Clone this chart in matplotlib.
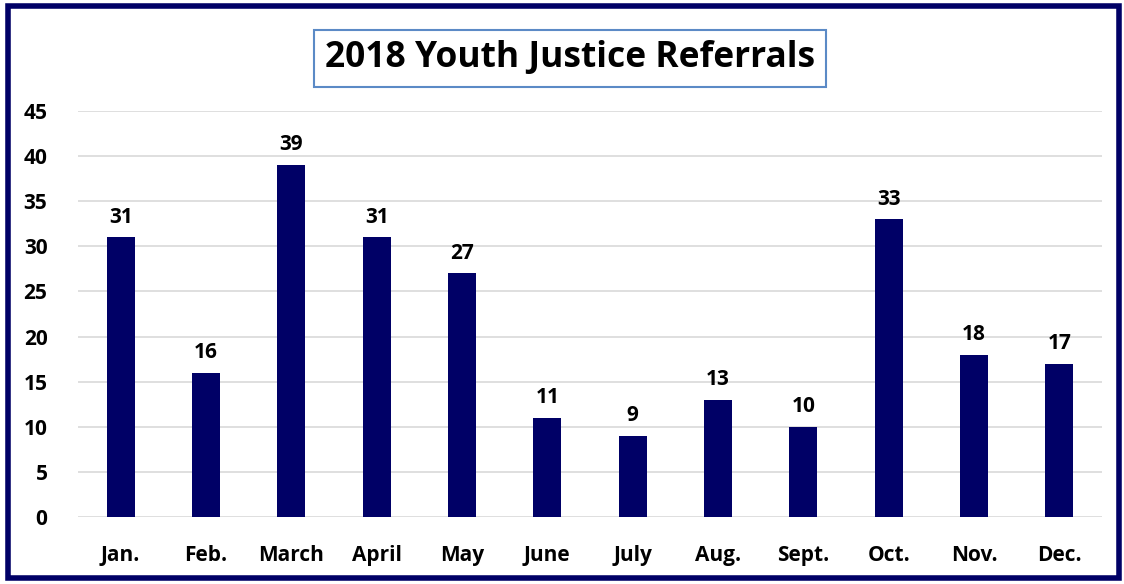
import matplotlib.pyplot as plt
from matplotlib.patches import Rectangle

# data
months = ['Jan.', 'Feb.', 'March', 'April', 'May', 'June', 'July',
          'Aug.', 'Sept.', 'Oct.', 'Nov.', 'Dec.']
referrals = [31, 16, 39, 31, 27, 11, 9, 13, 10, 33, 18, 17]
y_ticks = [0, 5, 10, 15, 20, 25, 30, 35, 40, 45]

navy = '#000066'
plt.rcParams['font.family'] = ['Open Sans', 'DejaVu Sans']

fig = plt.figure(figsize=(11.24, 5.84), dpi=100)
ax = fig.add_axes([0.0694, 0.1147, 0.911, 0.6952])

x = range(len(months))
bars = ax.bar(x, referrals, width=0.33, color=navy, zorder=3)

for rect, v in zip(bars, referrals):
    ax.annotate(str(v), (rect.get_x() + rect.get_width() / 2, v),
                xytext=(0, 7), textcoords='offset points',
                ha='center', va='bottom', fontsize=15, fontweight='bold')

ax.set_xlim(-0.5, len(months) - 0.5)
ax.set_ylim(0, 45)
ax.set_yticks(y_ticks)
ax.set_xticks(list(x))
ax.set_xticklabels(months)
ax.grid(axis='y', color='#d9d9d9', linewidth=1.2, zorder=0)
for s in ax.spines.values():
    s.set_visible(False)
ax.tick_params(length=0, labelsize=15)
ax.tick_params(axis='x', pad=20)
ax.tick_params(axis='y', pad=22)
for lbl in ax.get_xticklabels() + ax.get_yticklabels():
    lbl.set_fontweight('bold')

# title in a box
fig.text(0.507, 0.9, '2018 Youth Justice Referrals', ha='center', va='center',
         fontsize=25.5, fontweight='bold',
         bbox=dict(boxstyle='square,pad=0.3', facecolor='white',
                   edgecolor='#5b8ac6', linewidth=1.5))

# outer border
fig.patches.append(Rectangle((0.0075, 0.01), 0.988, 0.98, transform=fig.transFigure,
                             fill=False, edgecolor=navy, linewidth=4))

plt.savefig('out.png', dpi=100)
